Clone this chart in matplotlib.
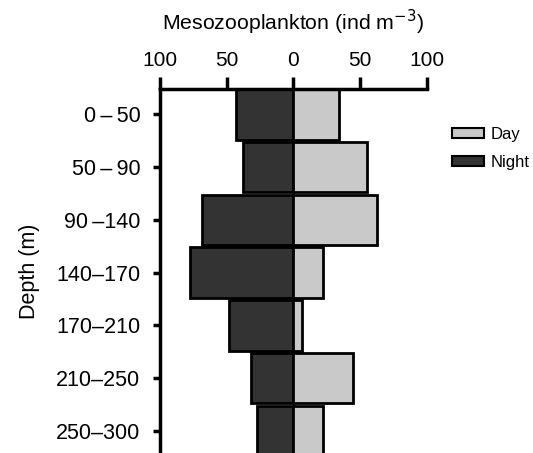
import matplotlib.pyplot as plt
import numpy as np

plt.rcParams['font.family'] = ['Liberation Sans', 'DejaVu Sans']

# --- Data ---
depths = ["0\u2009–\u200950", "50\u2009–\u200990", "90\u2009–140", "140–170",
          "170–210", "210–250", "250–300"]
day = [34.5, 55.5, 63, 22.5, 6.5, 45, 22]
night = [43, 37.5, 68.5, 77.5, 48.5, 32, 27.5]

day_color = "#c9c9c9"
night_color = "#333333"

# --- Figure ---
fig = plt.figure(figsize=(5.33, 4.53), dpi=100)
ax = fig.add_axes([0.300, 0.0, 0.5003, 0.8035])

y = np.arange(len(depths))
ax.barh(y, [-v for v in night], height=0.96, color=night_color,
        edgecolor="black", linewidth=2, label="Night", zorder=2)
ax.barh(y, day, height=0.96, color=day_color,
        edgecolor="black", linewidth=2, label="Day", zorder=2)

ax.set_xlim(-100, 100)
ax.set_ylim(6.42, -0.48)

ax.xaxis.tick_top()
ax.xaxis.set_label_position("top")
ax.set_xticks([-100, -50, 0, 50, 100])
ax.set_xticklabels(["100", "50", "0", "50", "100"])
ax.tick_params(axis="x", direction="out", length=9, width=2.5,
               labelsize=15, pad=5)
ax.set_xlabel("Mesozooplankton (ind m$^{-3}$)", fontsize=15.3, labelpad=15)

ax.set_yticks(y)
ax.set_yticklabels(depths)
ax.tick_params(axis="y", direction="out", length=5, width=2.5,
               labelsize=15.5, pad=9)
ax.set_ylabel("Depth (m)", fontsize=15.5, labelpad=12)

for side in ["right", "bottom"]:
    ax.spines[side].set_visible(False)
ax.spines["top"].set_linewidth(2.5)
ax.spines["left"].set_linewidth(2.5)

# Legend
handles, labels = ax.get_legend_handles_labels()
fig.legend(handles[::-1], labels[::-1], loc="upper left",
           bbox_to_anchor=(0.836, 0.735), frameon=False, fontsize=12,
           handlelength=1.9, handleheight=0.6, handletextpad=0.4,
           labelspacing=0.8, borderaxespad=0)
for p in fig.legends[0].get_patches():
    p.set_linewidth(1.5)

fig.savefig("out.png", dpi=100)
